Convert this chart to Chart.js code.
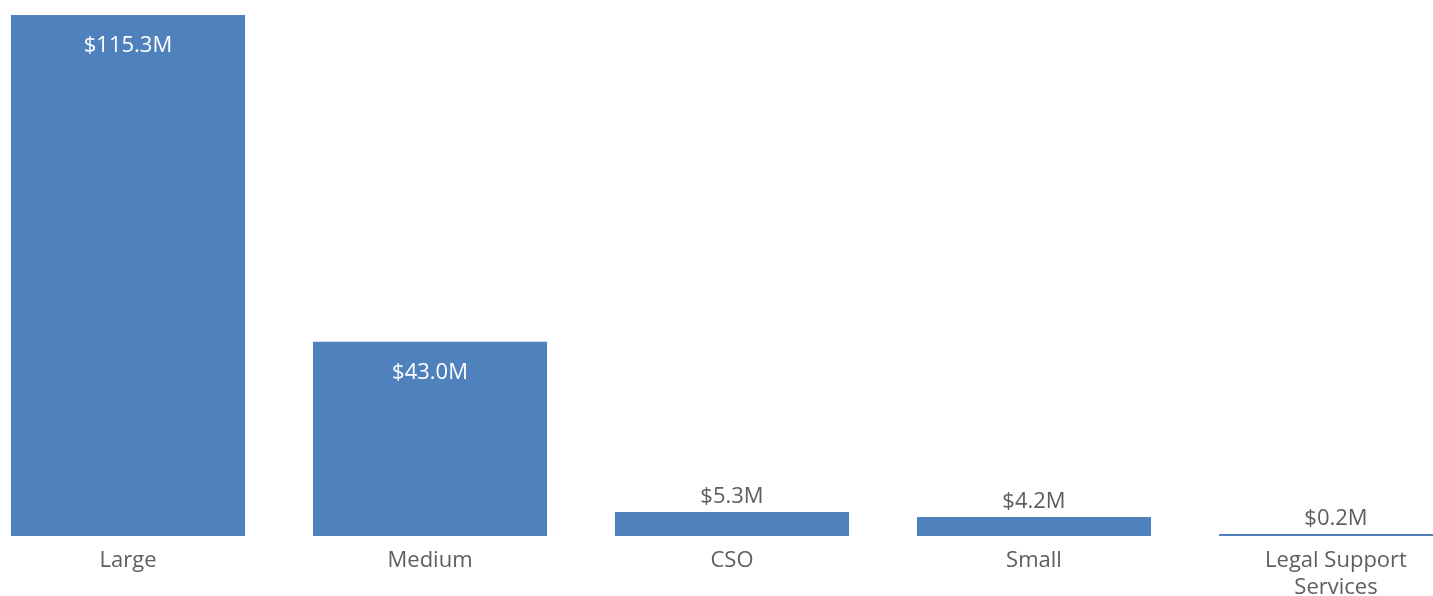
<!DOCTYPE html>
<html>
<head>
<meta charset="utf-8">
<script src="https://cdn.jsdelivr.net/npm/chart.js@4/dist/chart.umd.min.js"></script>
<style>
  html, body { margin: 0; padding: 0; background: #fff; overflow: hidden; }
  #wrap { position: absolute; left: -23px; top: 0; width: 1510px; height: 596px; }
</style>
</head>
<body>
<div id="wrap"><canvas id="sizeChart" width="1510" height="596"></canvas></div>
<script>
const categories = ["Large", "Medium", "CSO", "Small", ["Legal Support", "Services"]];
const amounts = [115.3, 43.0, 5.3, 4.2, 0.2]; // $M

const barColor = "#4f81bd";
const textGray = "#605e5c";
const fontFamily = "'Open Sans', 'Noto Sans', sans-serif";

// draw "$x.xM" labels inside tall bars, above short ones
const valueLabels = {
  id: "valueLabels",
  afterDatasetsDraw(chart) {
    const ctx = chart.ctx;
    const meta = chart.getDatasetMeta(0);
    ctx.save();
    ctx.font = "22px " + fontFamily;
    ctx.textAlign = "center";
    ctx.textBaseline = "middle";
    meta.data.forEach((bar, i) => {
      const txt = "$" + amounts[i].toFixed(1) + "M";
      const h = bar.base - bar.y;
      if (h > 60) {
        ctx.fillStyle = "#ffffff";
        ctx.fillText(txt, bar.x, bar.y + 31);
      } else {
        ctx.fillStyle = textGray;
        ctx.fillText(txt, bar.x, bar.y - 15);
      }
    });
    ctx.restore();
  }
};

window.addEventListener("load", () => {
  const ctx = document.getElementById("sizeChart").getContext("2d");

  new Chart(ctx, {
    type: "bar",
    data: {
      labels: categories,
      datasets: [{
        data: amounts,
        backgroundColor: barColor,
        borderWidth: 0,
        barPercentage: 0.775,
        categoryPercentage: 1.0,
        minBarLength: 2
      }]
    },
    options: {
      responsive: false,
      animation: false,
      layout: { padding: { top: 15, left: 0, right: 0, bottom: 0 } },
      plugins: {
        legend: { display: false },
        tooltip: { enabled: false }
      },
      scales: {
        y: {
          display: false,
          min: 0,
          max: 115.3
        },
        x: {
          grid: { display: false },
          border: { display: false },
          ticks: {
            color: textGray,
            padding: 4,
            maxRotation: 0,
            autoSkip: false,
            font: { family: fontFamily, size: 22, lineHeight: 1.2 }
          },
          afterFit(scale) { scale.height = 60; }
        }
      }
    },
    plugins: [valueLabels]
  });
});
</script>
</body>
</html>
